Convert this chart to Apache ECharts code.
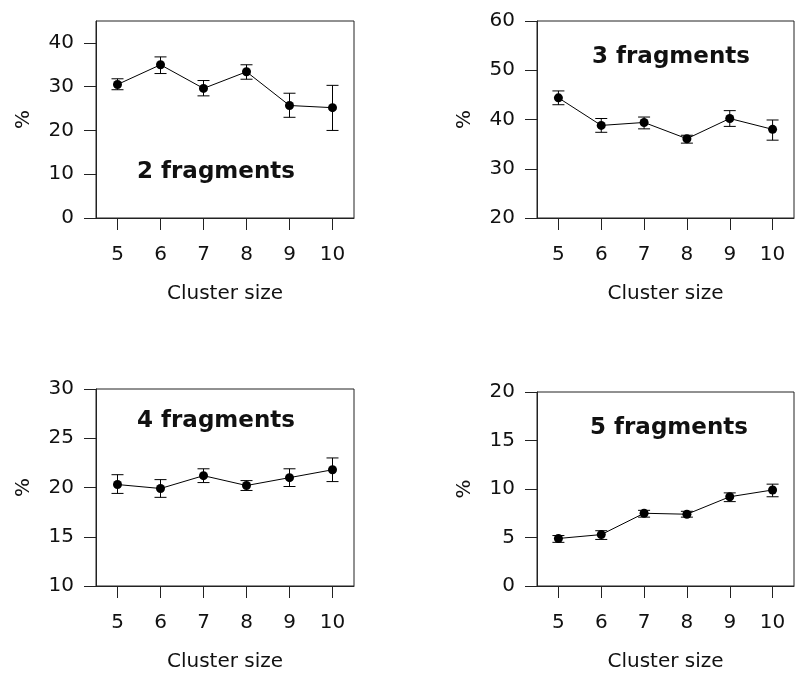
<!DOCTYPE html>
<html>
<head>
<meta charset="utf-8">
<title>Fragments by cluster size</title>
<script src="https://cdn.jsdelivr.net/npm/echarts@6/dist/echarts.min.js"></script>
<style>
  html, body { margin: 0; padding: 0; background: #fff; }
  #chart { width: 795px; height: 673px; }
</style>
</head>
<body>
<div id="chart"></div>
<script>
// cluster sizes on the x axis
const clusterSizes = ['5', '6', '7', '8', '9', '10'];

// 2 fragments
const frag2Mean = [30.5, 35.0, 29.6, 33.4, 25.7, 25.2];
const frag2Low  = [29.3, 33.0, 27.9, 31.7, 23.0, 20.0];
const frag2High = [31.8, 36.8, 31.4, 35.0, 28.5, 30.3];
const frag2Ticks = [0, 10, 20, 30, 40];

// 3 fragments
const frag3Mean = [44.4, 38.8, 39.4, 36.1, 40.2, 38.0];
const frag3Low  = [43.0, 37.4, 38.1, 35.2, 38.6, 35.8];
const frag3High = [45.8, 40.2, 40.5, 36.8, 41.8, 39.9];
const frag3Ticks = [20, 30, 40, 50, 60];

// 4 fragments
const frag4Mean = [20.3, 19.9, 21.2, 20.2, 21.0, 21.8];
const frag4Low  = [19.4, 19.0, 20.5, 19.7, 20.1, 20.6];
const frag4High = [21.3, 20.8, 21.9, 20.7, 21.9, 23.0];
const frag4Ticks = [10, 15, 20, 25, 30];

// 5 fragments
const frag5Mean = [4.9, 5.3, 7.5, 7.4, 9.2, 9.9];
const frag5Low  = [4.5, 4.8, 7.1, 7.1, 8.7, 9.2];
const frag5High = [5.2, 5.7, 7.8, 7.7, 9.6, 10.5];
const frag5Ticks = [0, 5, 10, 15, 20];

const FONT = 'DejaVu Sans';
const INK = '#111';

// panel boxes
const grids = [
  { left: 96, top: 21, width: 258, height: 197 },
  { left: 537, top: 21, width: 257, height: 197 },
  { left: 96, top: 389, width: 258, height: 197 },
  { left: 537, top: 392, width: 257, height: 197 },
];

const panels = [
  { mean: frag2Mean, low: frag2Low, high: frag2High, ticks: frag2Ticks, min: 0, max: 45, label: '2 fragments', tLeft: 137, tTop: 161 },
  { mean: frag3Mean, low: frag3Low, high: frag3High, ticks: frag3Ticks, min: 20, max: 60, label: '3 fragments', tLeft: 592, tTop: 46 },
  { mean: frag4Mean, low: frag4Low, high: frag4High, ticks: frag4Ticks, min: 10, max: 30, label: '4 fragments', tLeft: 137, tTop: 410 },
  { mean: frag5Mean, low: frag5Low, high: frag5High, ticks: frag5Ticks, min: 0, max: 20, label: '5 fragments', tLeft: 590, tTop: 417 },
];

function errorBar(params, api) {
  const idx = api.value(0);
  const lo = api.coord([idx, api.value(1)]);
  const hi = api.coord([idx, api.value(2)]);
  const half = 6;
  const style = { stroke: '#000', lineWidth: 1 };
  return {
    type: 'group',
    children: [
      { type: 'line', shape: { x1: hi[0], y1: hi[1], x2: lo[0], y2: lo[1] }, style: style },
      { type: 'line', shape: { x1: hi[0] - half, y1: hi[1], x2: hi[0] + half, y2: hi[1] }, style: style },
      { type: 'line', shape: { x1: lo[0] - half, y1: lo[1], x2: lo[0] + half, y2: lo[1] }, style: style },
    ],
  };
}

const option = {
  backgroundColor: '#fff',
  animation: false,
  textStyle: { fontFamily: FONT },
  grid: grids.map(g => Object.assign({ show: true, borderColor: '#222', borderWidth: 1, backgroundColor: 'transparent' }, g)),
  title: panels.map(p => ({
    text: p.label,
    left: p.tLeft,
    top: p.tTop,
    padding: 0,
    textStyle: { fontFamily: FONT, fontSize: 23, fontWeight: 'bold', color: INK },
  })),
  xAxis: panels.map((p, i) => ({
    type: 'category',
    gridIndex: i,
    data: clusterSizes,
    boundaryGap: true,
    name: 'Cluster size',
    nameLocation: 'middle',
    nameGap: 66,
    nameTextStyle: { fontFamily: FONT, fontSize: 20, color: INK },
    axisLine: { show: true, lineStyle: { color: '#222', width: 1 } },
    axisTick: { show: true, alignWithLabel: true, length: 12, lineStyle: { color: '#222', width: 1 } },
    axisLabel: { fontFamily: FONT, fontSize: 20, color: INK, margin: 27 },
    splitLine: { show: false },
  })),
  yAxis: panels.map((p, i) => ({
    type: 'value',
    gridIndex: i,
    min: p.min,
    max: p.max,
    name: '%',
    nameLocation: 'middle',
    nameGap: 62,
    nameTextStyle: { fontFamily: FONT, fontSize: 20, color: INK },
    axisLine: { show: true, lineStyle: { color: '#222', width: 1 } },
    axisTick: { show: true, length: 12, customValues: p.ticks, lineStyle: { color: '#222', width: 1 } },
    axisLabel: { fontFamily: FONT, fontSize: 20, color: INK, margin: 22, customValues: p.ticks },
    splitLine: { show: false },
  })),
  series: [],
};

panels.forEach((p, i) => {
  option.series.push({
    type: 'custom',
    xAxisIndex: i,
    yAxisIndex: i,
    renderItem: errorBar,
    data: p.low.map((v, k) => [k, v, p.high[k]]),
    z: 2,
    silent: true,
  });
  option.series.push({
    type: 'line',
    xAxisIndex: i,
    yAxisIndex: i,
    data: p.mean,
    symbol: 'circle',
    symbolSize: 9,
    showAllSymbol: true,
    itemStyle: { color: '#000' },
    lineStyle: { color: '#000', width: 1 },
    z: 3,
    silent: true,
  });
});

const chart = echarts.init(document.getElementById('chart'), null, { renderer: 'canvas' });
chart.setOption(option);
</script>
</body>
</html>
